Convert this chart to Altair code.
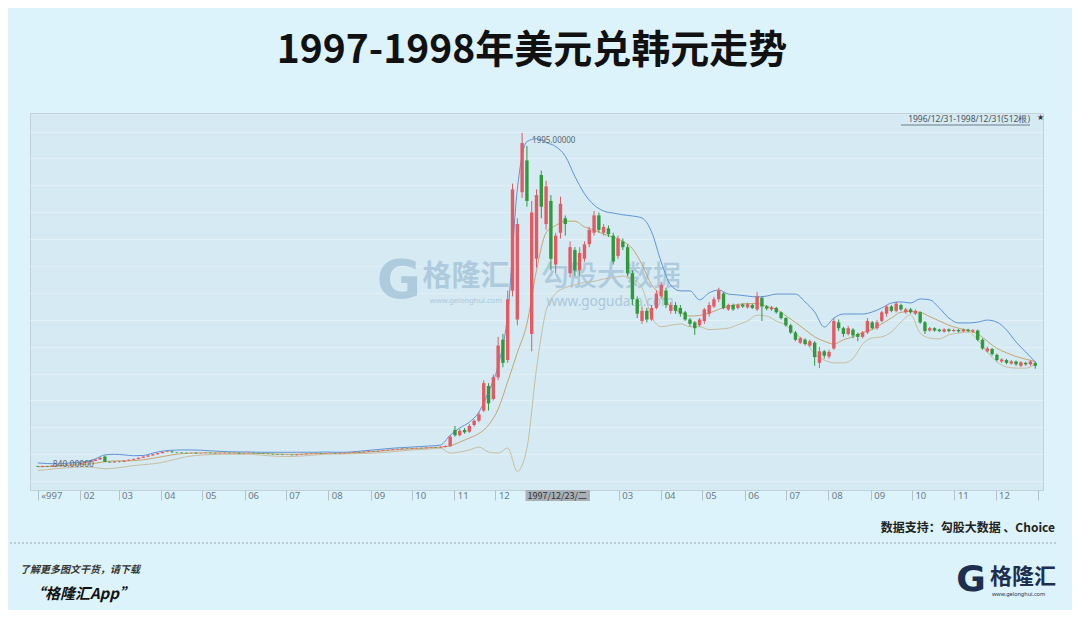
import altair as alt
import pandas as pd

# ---------------- data ----------------
candle_open = [
    842, 840, 843, 841, 845, 847, 846, 849, 851, 850,
    854, 857, 861, 866, 876, 858, 856, 859, 858, 862,
    865, 868, 872, 876, 880, 884, 888, 892, 894, 891,
    890, 889, 888, 889, 887, 888, 889, 888, 887, 888,
    889, 888, 889, 887, 888, 889, 888, 887, 886, 885,
    884, 883, 882, 882, 881, 883, 884, 886, 887, 888,
    887, 888, 888, 887, 888, 889, 890, 892, 891, 893,
    895, 894, 896, 898, 899, 901, 902, 904, 903, 905,
    906, 905, 907, 908, 907, 909, 912, 968, 950, 968,
    962, 985, 1000, 1035, 1120, 1075, 1150, 1280, 1210, 1450,
    1350, 1790, 1900, 1300, 1560, 1850, 1680, 1760, 1540, 1650,
    1700, 1510, 1590, 1520, 1560, 1610, 1650, 1710, 1650, 1665,
    1640, 1570, 1620, 1600, 1510, 1420, 1345, 1380, 1350, 1390,
    1430, 1450, 1380, 1400, 1390, 1375, 1350, 1340, 1330, 1345,
    1370, 1395, 1420, 1440, 1385, 1400, 1390, 1402, 1392, 1400,
    1385, 1425, 1395, 1385, 1390, 1375, 1355, 1330, 1305, 1270,
    1280, 1260, 1270, 1200, 1240, 1222, 1250, 1340, 1320, 1300,
    1315, 1300, 1290, 1305, 1340, 1320, 1345, 1370, 1395, 1380,
    1400, 1375, 1385, 1370, 1375, 1340, 1312, 1320, 1315, 1308,
    1316, 1310, 1314, 1309, 1315, 1308, 1312, 1280, 1240, 1248,
    1228, 1205, 1210, 1198, 1205, 1190, 1200, 1195, 1200,
]
candle_close = [
    840, 843, 841, 845, 847, 846, 849, 851, 850, 854,
    857, 861, 866, 872, 858, 856, 859, 858, 862, 865,
    868, 872, 876, 880, 884, 888, 892, 894, 891, 890,
    889, 888, 889, 887, 888, 889, 888, 887, 888, 889,
    888, 889, 887, 888, 889, 888, 887, 886, 885, 884,
    883, 882, 882, 881, 883, 884, 886, 887, 888, 887,
    888, 888, 887, 888, 889, 890, 892, 891, 893, 895,
    894, 896, 898, 899, 901, 902, 904, 903, 905, 906,
    905, 907, 908, 907, 909, 913, 945, 950, 965, 960,
    982, 1000, 1022, 1130, 1060, 1150, 1260, 1200, 1420, 1800,
    1680, 1960, 1760, 1720, 1780, 1740, 1810, 1560, 1640, 1750,
    1680, 1600, 1520, 1580, 1610, 1660, 1710, 1660, 1670, 1645,
    1550, 1630, 1600, 1510, 1420, 1370, 1380, 1350, 1390, 1440,
    1470, 1400, 1400, 1380, 1370, 1350, 1335, 1320, 1350, 1385,
    1400, 1420, 1450, 1390, 1400, 1385, 1400, 1395, 1403, 1390,
    1430, 1395, 1388, 1392, 1375, 1355, 1330, 1305, 1280, 1285,
    1265, 1275, 1220, 1240, 1225, 1238, 1345, 1320, 1300, 1320,
    1295, 1290, 1305, 1345, 1320, 1340, 1375, 1395, 1380, 1405,
    1385, 1385, 1375, 1380, 1340, 1310, 1320, 1312, 1310, 1316,
    1310, 1314, 1309, 1315, 1310, 1313, 1280, 1250, 1250, 1230,
    1210, 1212, 1200, 1205, 1195, 1202, 1195, 1205, 1190,
]
candle_high = [
    844, 845, 844, 846, 848, 849, 850, 852, 853, 855,
    858, 862, 867, 874, 880, 859, 860, 861, 863, 866,
    869, 873, 877, 881, 885, 889, 893, 896, 895, 892,
    891, 890, 890, 890, 889, 890, 890, 889, 889, 890,
    890, 890, 890, 889, 890, 890, 889, 888, 887, 886,
    885, 884, 883, 883, 884, 885, 887, 888, 889, 889,
    889, 889, 889, 890, 890, 891, 893, 893, 894, 897,
    896, 897, 899, 901, 902, 904, 905, 905, 906, 907,
    907, 908, 909, 909, 911, 914, 950, 982, 972, 975,
    988, 1005, 1030, 1140, 1130, 1160, 1290, 1300, 1450, 1820,
    1700, 1995, 1950, 1760, 1800, 1865, 1830, 1780, 1650, 1775,
    1710, 1620, 1600, 1600, 1620, 1670, 1725, 1720, 1680, 1675,
    1650, 1640, 1630, 1610, 1520, 1430, 1395, 1390, 1400, 1450,
    1480, 1460, 1410, 1410, 1400, 1380, 1355, 1345, 1355, 1390,
    1410, 1428, 1460, 1445, 1405, 1405, 1405, 1406, 1408, 1404,
    1445, 1430, 1400, 1397, 1394, 1378, 1358, 1335, 1310, 1290,
    1285, 1280, 1275, 1255, 1245, 1245, 1355, 1350, 1325, 1328,
    1320, 1305, 1310, 1355, 1345, 1348, 1380, 1400, 1400, 1412,
    1405, 1390, 1390, 1385, 1378, 1345, 1324, 1323, 1318, 1320,
    1319, 1318, 1317, 1319, 1318, 1317, 1315, 1285, 1256, 1252,
    1232, 1216, 1214, 1210, 1208, 1206, 1204, 1208, 1205,
]
candle_low = [
    840, 839, 840, 840, 844, 845, 845, 848, 849, 849,
    853, 856, 860, 865, 857, 854, 855, 856, 857, 861,
    864, 867, 871, 875, 879, 883, 887, 891, 890, 888,
    887, 887, 887, 886, 886, 887, 887, 886, 886, 887,
    887, 887, 886, 886, 887, 887, 886, 885, 884, 883,
    882, 881, 881, 880, 880, 882, 883, 885, 886, 886,
    886, 887, 886, 886, 887, 888, 889, 890, 890, 892,
    893, 893, 895, 897, 898, 900, 901, 902, 902, 904,
    904, 904, 906, 906, 906, 908, 910, 945, 946, 955,
    958, 980, 995, 1030, 1035, 1070, 1140, 1185, 1200, 1430,
    1330, 1770, 1740, 1240, 1530, 1700, 1660, 1520, 1510, 1630,
    1640, 1495, 1500, 1500, 1550, 1600, 1640, 1650, 1640, 1635,
    1540, 1560, 1590, 1500, 1400, 1355, 1335, 1340, 1345, 1385,
    1420, 1390, 1370, 1370, 1360, 1345, 1325, 1297, 1325, 1335,
    1360, 1390, 1410, 1385, 1380, 1380, 1385, 1390, 1388, 1386,
    1380, 1345, 1382, 1380, 1370, 1350, 1325, 1300, 1275, 1265,
    1260, 1255, 1190, 1182, 1215, 1215, 1245, 1310, 1290, 1295,
    1285, 1275, 1285, 1300, 1315, 1315, 1340, 1360, 1375, 1375,
    1380, 1370, 1370, 1365, 1335, 1300, 1308, 1308, 1306, 1305,
    1306, 1307, 1305, 1306, 1306, 1304, 1275, 1245, 1236, 1225,
    1205, 1200, 1195, 1194, 1190, 1186, 1190, 1190, 1180,
]
band_upper = [
    854, 852, 851, 853, 856, 859, 868, 882, 884, 882,
    879, 880, 888, 895, 898, 899, 899, 898, 896, 894,
    893, 892, 892, 891, 891, 891, 891, 891, 891, 891,
    892, 891, 891, 893, 896, 899, 902, 905, 907, 909,
    911, 913, 916, 950, 975, 995, 1030, 1100, 1190, 1370,
    1800, 1965, 1975, 1962, 1948, 1915, 1845, 1785, 1746, 1725,
    1718, 1712, 1708, 1701, 1653, 1549, 1469, 1449, 1449, 1418,
    1442, 1452, 1438, 1435, 1431, 1428, 1431, 1438, 1438, 1438,
    1411, 1376, 1324, 1355, 1369, 1369, 1369, 1376, 1390, 1407,
    1411, 1407, 1421, 1418, 1390, 1355, 1338, 1338, 1341, 1348,
    1341, 1314, 1272, 1238, 1203,
]
band_mid = [
    841, 842, 843, 845, 847, 849, 853, 858, 861, 861,
    862, 865, 870, 876, 882, 886, 888, 889, 889, 889,
    888, 888, 888, 887, 886, 885, 884, 884, 885, 886,
    887, 888, 888, 889, 891, 893, 896, 899, 901, 903,
    905, 907, 909, 913, 926, 940, 956, 985, 1040, 1135,
    1235, 1335, 1520, 1650, 1675, 1690, 1690, 1670, 1660, 1645,
    1635, 1620, 1595, 1540, 1470, 1435, 1395, 1375, 1362, 1364,
    1372, 1385, 1395, 1402, 1405, 1405, 1395, 1385, 1363, 1340,
    1315, 1290, 1275, 1265, 1280, 1290, 1305, 1315, 1335, 1355,
    1375, 1378, 1375, 1360, 1345, 1330, 1320, 1312, 1300, 1275,
    1250, 1235, 1222, 1213, 1205,
]
band_lower = [
    828, 831, 835, 837, 839, 840, 838, 834, 836, 840,
    845, 848, 851, 856, 864, 872, 878, 881, 883, 884,
    884, 884, 884, 882, 879, 877, 876, 877, 879, 882,
    884, 885, 885, 886, 887, 888, 890, 893, 896, 899,
    901, 903, 905, 888, 892, 899, 909, 892, 888, 906,
    825, 905, 1180, 1380, 1440, 1460, 1470, 1478, 1482, 1490,
    1495, 1500, 1490, 1460, 1360, 1325, 1330, 1335, 1325, 1325,
    1315, 1317, 1320, 1332, 1345, 1365, 1362, 1345, 1330, 1300,
    1275, 1230, 1210, 1200, 1200, 1215, 1265, 1286, 1290, 1307,
    1341, 1366, 1303, 1286, 1283, 1297, 1303, 1307, 1279, 1238,
    1203, 1186, 1182, 1182, 1196,
]
grid_values = [2000, 1907, 1814, 1721, 1628, 1535, 1442, 1349, 1256, 1163, 1070, 977, 884, 791]

peak_index = 101
peak_value = 1995
peak_label = "1995.00000"
start_label = "840.00000"
start_value = 840
cursor_date = "1997-12-23"
cursor_end = "1998-02-08"
cursor_label = "1997/12/23/二"

title_text = "1997-1998年美元兑韩元走势"
range_text = "1996/12/31-1998/12/31(512根)"
source_text = "数据支持：勾股大数据 、Choice"
footer_1 = "了解更多图文干货，请下载"
footer_2 = "“格隆汇App”"

# ---------------- styling ----------------
RED = "#e35a63"
GREEN = "#2e9a3b"
BLUE = "#5f93d6"
MID = "#c6a56c"
LOW = "#c9bd9f"
PAGE_BG = "#dcf3fc"
PLOT_BG = "#d5eaf3"
CJK = "Noto Sans CJK SC"

W, H = 1013, 377

# ---------------- tables ----------------
dates_c = pd.date_range("1997-01-01", periods=len(candle_open), freq="84h")
candles = pd.DataFrame({
    "date": dates_c, "open": candle_open, "close": candle_close,
    "high": candle_high, "low": candle_low,
})
candles["dir"] = ["up" if c >= o else "down" for o, c in zip(candle_open, candle_close)]

dates_b = pd.date_range("1997-01-01", periods=len(band_mid), freq="7D")
bands = pd.DataFrame({"date": dates_b, "upper": band_upper, "mid": band_mid, "lower": band_lower})

x_scale = alt.Scale(domain=[alt.DateTime(year=1996, month=12, date=30),
                            alt.DateTime(year=1999, month=1, date=1)])
y_scale = alt.Scale(domain=[760.5, 2064], nice=False, zero=False)

x_axis = alt.Axis(
    title=None, grid=False, domain=False,
    tickCount={"interval": "month", "step": 1},
    tickSize=10, tickColor="#b3c2ca",
    labelExpr=("year(datum.value)>1998 ? '' : "
               "(month(datum.value)==0 && year(datum.value)==1997 ? '«997' : "
               "(year(datum.value)==1998 && month(datum.value)<=1 ? '' : timeFormat(datum.value, '%m')))"),
    labelAlign="left", labelBaseline="middle", labelPadding=-5, labelOffset=3,
    labelFontSize=9.5, labelColor="#6b7a85", labelFont="Noto Sans",
    labelFlush=False, labelOverlap=False,
)
y_axis = alt.Axis(title=None, values=grid_values, labels=False, ticks=False,
                  domain=False, grid=True, gridColor="#e2eff5", gridWidth=1)


def X(field):
    return alt.X(field, scale=x_scale, axis=x_axis)


def Y(field):
    return alt.Y(field, scale=y_scale, axis=y_axis)


dir_color = alt.Color("dir:N", scale=alt.Scale(domain=["up", "down"], range=[RED, GREEN]), legend=None)


def text_layer(text, x, y, size, color, weight="normal", align="center",
               style="normal", font=CJK, opacity=1.0, baseline="middle"):
    df = pd.DataFrame({"t": [text]})
    return alt.Chart(df).mark_text(
        fontSize=size, color=color, fontWeight=weight, align=align,
        fontStyle=style, font=font, opacity=opacity, baseline=baseline,
    ).encode(text="t:N", x=alt.value(x), y=alt.value(y))


# watermark
wm_color = "#8fb0cc"
watermark = [
    text_layer("G", 369, 169, 54, wm_color, weight=900, font="DejaVu Sans", opacity=0.55),
    text_layer("格隆汇", 436, 164, 29, wm_color, weight="bold", opacity=0.55),
    text_layer("www.gelonghui.com", 436, 188, 7.5, wm_color, opacity=0.6, font="Noto Sans"),
    text_layer("勾股大数据", 581, 165, 28, wm_color, weight=500, opacity=0.55),
    text_layer("www.gogudata.com", 580, 189, 13.5, wm_color, opacity=0.6, font="Noto Sans"),
]

band_layers = []
for name, col, wdt in [("lower", LOW, 1), ("mid", MID, 1), ("upper", BLUE, 1)]:
    band_layers.append(
        alt.Chart(bands).mark_line(strokeWidth=wdt, color=col, interpolate="monotone").encode(
            x=X("date:T"), y=Y(f"{name}:Q")
        )
    )

wicks = alt.Chart(candles).mark_rule(strokeWidth=1).encode(
    x=X("date:T"), y=Y("low:Q"), y2="high:Q", color=dir_color
)
bodies = alt.Chart(candles).mark_bar(size=3.4).encode(
    x=X("date:T"), y=Y("open:Q"), y2="close:Q", color=dir_color
)

peak_df = pd.DataFrame({"date": [dates_c[peak_index]], "v": [peak_value], "t": [peak_label]})
peak_text = alt.Chart(peak_df).mark_text(
    align="left", baseline="middle", dx=10, dy=8, fontSize=8, color="#5b6670", font="Noto Sans"
).encode(x=X("date:T"), y=Y("v:Q"), text="t:N")

start_df = pd.DataFrame({"date": [dates_c[0]], "v": [start_value], "t": [start_label]})
start_text = alt.Chart(start_df).mark_text(
    align="left", baseline="middle", dx=15, dy=-3, fontSize=8.5, color="#5b6670", font="Noto Sans"
).encode(x=X("date:T"), y=Y("v:Q"), text="t:N")

cursor_df = pd.DataFrame({"start": [pd.Timestamp(cursor_date)], "end": [pd.Timestamp(cursor_end)],
                          "t": [cursor_label]})
cursor_box = alt.Chart(cursor_df).mark_rect(color="#a8b0b5").encode(
    x=X("start:T"), x2="end:T", y=alt.value(H), y2=alt.value(H + 11)
)
cursor_text = alt.Chart(cursor_df).mark_text(
    align="left", baseline="middle", dx=2, fontSize=9, color="#333333", font=CJK
).encode(x=X("start:T"), y=alt.value(H + 5.5), text="t:N")

one = pd.DataFrame({"k": [0]})
underline = alt.Chart(one).mark_rule(color="#55606a", strokeWidth=0.8).encode(
    x=alt.value(871), x2=alt.value(1000), y=alt.value(12)
)
separator = alt.Chart(one).mark_rule(color="#9aa7ad", strokeWidth=1, strokeDash=[2, 2]).encode(
    x=alt.value(-20), x2=alt.value(1028), y=alt.value(430)
)

texts = [
    text_layer(title_text, 502, -62, 39, "#111111", weight="bold"),
    text_layer(range_text, 1000, 6, 8.5, "#4a5660", align="right", font="Noto Sans"),
    text_layer("★", 1007, 5, 8, "#333333", align="left", font="DejaVu Sans"),
    text_layer(source_text, 1025, 415, 12, "#222222", weight="bold", align="right"),
    text_layer(footer_1, -10, 457, 10, "#333333", weight="bold", align="left", style="italic"),
    text_layer(footer_2, 0, 481, 15, "#111111", weight="bold", align="left", style="italic"),
    text_layer("G", 941, 467, 36, "#1d2f4f", weight=900, font="DejaVu Sans"),
    text_layer("格隆汇", 960, 464, 22, "#1d2f4f", weight="bold", align="left"),
    text_layer("www.gelonghui.com", 962, 481, 5.5, "#1d2f4f", align="left", font="Noto Sans"),
]

chart = alt.layer(
    *watermark, *band_layers, wicks, bodies, peak_text, start_text,
    cursor_box, cursor_text, underline, separator, *texts
).properties(
    width=W, height=H,
    autosize=alt.AutoSizeParams(type="none"),
    padding={"left": 22, "top": 105, "right": 29, "bottom": 120},
    background=PAGE_BG,
).configure_view(fill=PLOT_BG, stroke="#c2d1d8", strokeWidth=1)

chart.save("out.html", embed_options={"renderer": "svg", "actions": False})
